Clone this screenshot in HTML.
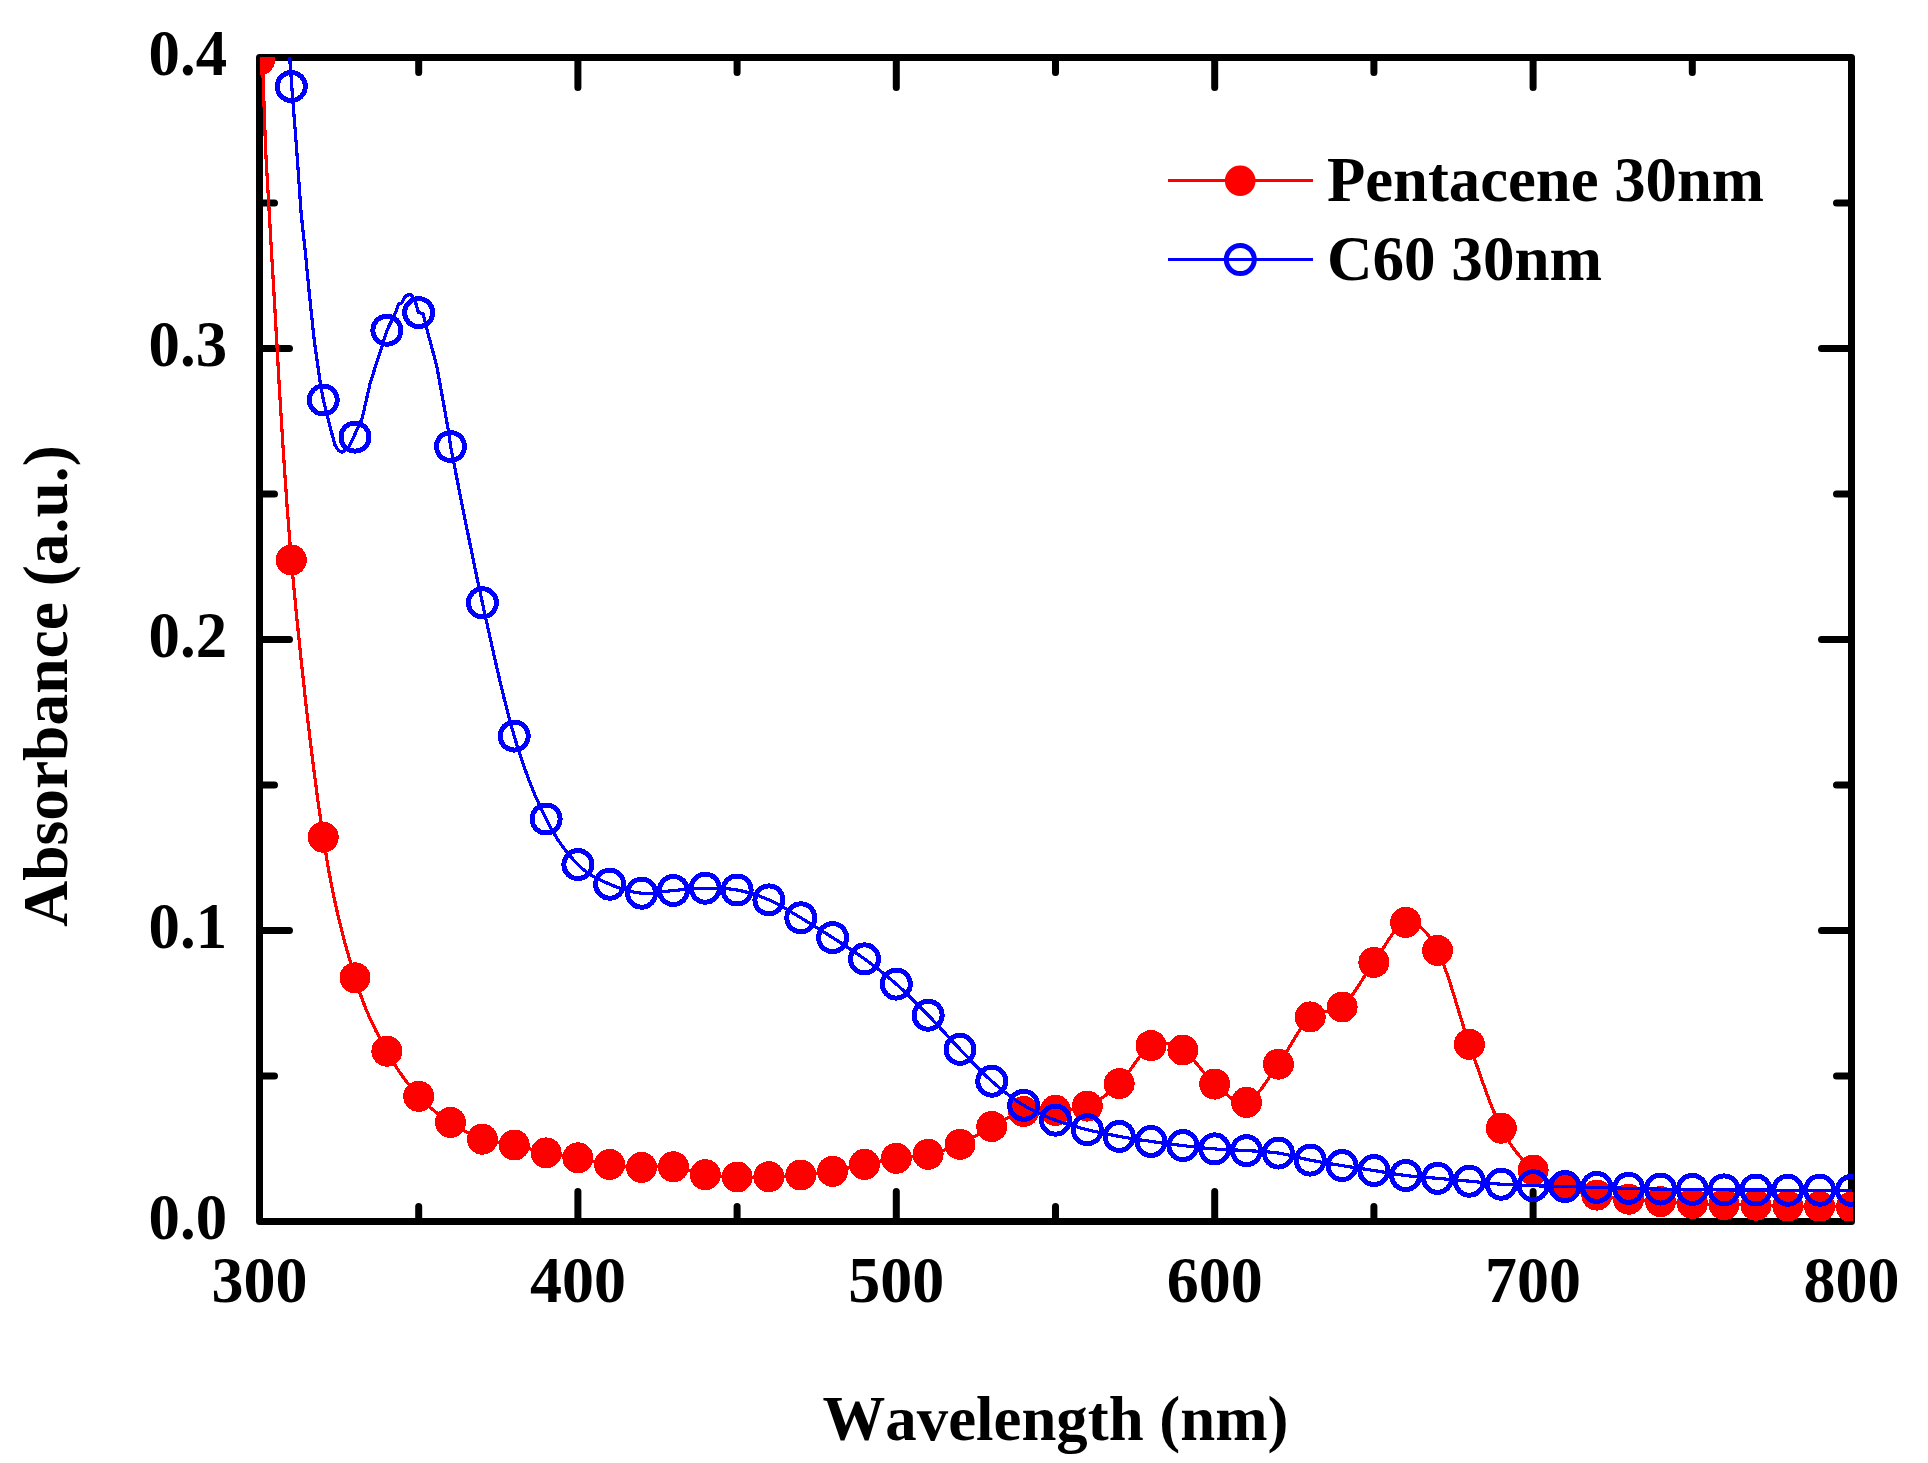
<!DOCTYPE html>
<html lang="en"><head><meta charset="utf-8"><title>Absorbance spectra</title>
<style>html,body{margin:0;padding:0;background:#fff;overflow:hidden}svg{display:block}text{font-family:"Liberation Serif","Times New Roman",serif;font-weight:bold;fill:#000;font-kerning:none}</style></head><body>
<svg width="1928" height="1463" viewBox="0 0 1928 1463">
<rect width="1928" height="1463" fill="#fff"/>
<defs><clipPath id="plot"><rect x="260" y="57" width="1593" height="1164"/></clipPath></defs>
<g stroke="#000" stroke-width="7" fill="none" stroke-linejoin="round">
<rect x="259.5" y="57.5" width="1592.0" height="1164.0"/>
<path stroke-linecap="round" d="M418.7 1221.5v-15M418.7 57.5v15M577.9 1221.5v-30M577.9 57.5v30M737.1 1221.5v-15M737.1 57.5v15M896.3 1221.5v-30M896.3 57.5v30M1055.5 1221.5v-15M1055.5 57.5v15M1214.7 1221.5v-30M1214.7 57.5v30M1373.9 1221.5v-15M1373.9 57.5v15M1533.1 1221.5v-30M1533.1 57.5v30M1692.3 1221.5v-15M1692.3 57.5v15M259.5 1076.0h15M1851.5 1076.0h-15M259.5 930.5h30M1851.5 930.5h-30M259.5 785.0h15M1851.5 785.0h-15M259.5 639.5h30M1851.5 639.5h-30M259.5 494.0h15M1851.5 494.0h-15M259.5 348.5h30M1851.5 348.5h-30M259.5 203.0h15M1851.5 203.0h-15"/>
</g>
<g clip-path="url(#plot)" shape-rendering="crispEdges">
<polyline points="262.3,55.0 263.0,75.0 265.6,150.0 271.4,250.0 273.8,289.9 276.6,339.0 279.7,393.9 283.3,451.3 287.2,507.8 291.3,560.0 296.0,609.7 301.1,659.9 306.5,709.2 312.1,756.1 317.7,799.3 323.2,837.2 328.5,869.3 333.8,896.7 339.1,920.2 344.4,941.0 349.7,959.8 355.0,977.8 360.3,994.2 365.6,1008.3 370.9,1020.5 376.2,1031.3 381.6,1041.4 386.9,1051.2 392.2,1060.6 397.5,1069.0 402.8,1076.7 408.1,1083.7 413.4,1090.2 418.7,1096.3 424.0,1101.9 429.3,1106.8 434.6,1111.1 439.9,1115.1 445.2,1118.8 450.5,1122.4 455.8,1125.9 461.2,1129.1 466.5,1132.1 471.8,1134.8 477.1,1137.1 482.4,1139.2 487.7,1140.8 493.0,1141.9 498.3,1142.7 503.6,1143.3 508.9,1144.0 514.2,1145.0 519.5,1146.2 524.8,1147.6 530.1,1149.0 535.4,1150.4 540.8,1151.7 546.1,1152.9 551.4,1153.9 556.7,1154.7 562.0,1155.4 567.3,1156.1 572.6,1156.9 577.9,1157.8 583.2,1158.9 588.5,1160.0 593.8,1161.3 599.1,1162.5 604.4,1163.6 609.7,1164.5 615.0,1165.2 620.4,1165.9 625.7,1166.4 631.0,1166.8 636.3,1167.2 641.6,1167.4 646.9,1167.4 652.2,1167.1 657.5,1166.8 662.8,1166.5 668.1,1166.4 673.4,1166.8 678.7,1167.7 684.0,1169.0 689.3,1170.6 694.6,1172.2 700.0,1173.6 705.3,1174.7 710.6,1175.4 715.9,1176.0 721.2,1176.4 726.5,1176.6 731.8,1176.8 737.1,1177.0 742.4,1177.1 747.7,1177.1 753.0,1177.1 758.3,1177.0 763.6,1176.9 768.9,1176.7 774.2,1176.5 779.6,1176.3 784.9,1176.1 790.2,1175.8 795.5,1175.4 800.8,1175.0 806.1,1174.5 811.4,1174.0 816.7,1173.5 822.0,1172.9 827.3,1172.1 832.6,1171.3 837.9,1170.3 843.2,1169.2 848.5,1167.9 853.8,1166.7 859.2,1165.4 864.5,1164.3 869.8,1163.2 875.1,1162.2 880.4,1161.1 885.7,1160.1 891.0,1159.2 896.3,1158.3 901.6,1157.6 906.9,1157.0 912.2,1156.5 917.5,1156.0 922.8,1155.3 928.1,1154.3 933.4,1153.1 938.8,1151.7 944.1,1150.2 949.4,1148.5 954.7,1146.6 960.0,1144.4 965.3,1141.8 970.6,1138.9 975.9,1135.8 981.2,1132.5 986.5,1129.4 991.8,1126.5 997.1,1123.7 1002.4,1120.8 1007.7,1118.0 1013.0,1115.4 1018.4,1113.2 1023.7,1111.5 1029.0,1110.5 1034.3,1110.2 1039.6,1110.2 1044.9,1110.4 1050.2,1110.5 1055.5,1110.3 1060.8,1110.0 1066.1,1109.8 1071.4,1109.5 1076.7,1109.0 1082.0,1107.9 1087.3,1106.1 1092.6,1103.6 1098.0,1100.5 1103.3,1097.0 1108.6,1092.9 1113.9,1088.5 1119.2,1083.6 1124.5,1077.7 1129.8,1070.5 1135.1,1062.9 1140.4,1055.7 1145.7,1049.7 1151.0,1045.6 1156.3,1043.5 1161.6,1042.8 1166.9,1043.3 1172.2,1044.8 1177.6,1047.1 1182.9,1050.0 1188.2,1054.1 1193.5,1059.8 1198.8,1066.2 1204.1,1072.8 1209.4,1079.0 1214.7,1084.1 1220.0,1088.7 1225.3,1093.4 1230.6,1097.7 1235.9,1101.0 1241.2,1102.7 1246.5,1102.3 1251.8,1099.3 1257.2,1094.1 1262.5,1087.3 1267.8,1079.7 1273.1,1071.7 1278.4,1064.2 1283.7,1056.4 1289.0,1047.7 1294.3,1038.8 1299.6,1030.2 1304.9,1022.7 1310.2,1016.9 1315.5,1013.5 1320.8,1012.1 1326.1,1011.8 1331.4,1011.5 1336.8,1010.2 1342.1,1007.0 1347.4,1001.5 1352.7,994.5 1358.0,986.6 1363.3,978.2 1368.6,970.0 1373.9,962.4 1379.2,954.7 1384.5,946.2 1389.8,937.9 1395.1,930.5 1400.4,925.1 1405.7,922.4 1411.0,922.4 1416.4,924.3 1421.7,928.0 1427.0,933.7 1432.3,941.1 1437.6,950.4 1442.9,962.4 1448.2,977.2 1453.5,993.9 1458.8,1011.3 1464.1,1028.5 1469.4,1044.3 1474.7,1059.3 1480.0,1074.6 1485.3,1089.5 1490.6,1103.7 1496.0,1116.8 1501.3,1128.2 1506.6,1137.9 1511.9,1146.2 1517.2,1153.2 1522.5,1159.4 1527.8,1164.9 1533.1,1170.0 1538.4,1174.4 1543.7,1178.0 1549.0,1180.9 1554.3,1183.3 1559.6,1185.4 1564.9,1187.5 1570.2,1189.4 1575.6,1190.9 1580.9,1192.1 1586.2,1193.2 1591.5,1194.2 1596.8,1195.1 1602.1,1196.0 1607.4,1196.8 1612.7,1197.5 1618.0,1198.1 1623.3,1198.7 1628.6,1199.2 1633.9,1199.7 1639.2,1200.1 1644.5,1200.5 1649.8,1200.9 1655.2,1201.2 1660.5,1201.6 1665.8,1202.0 1671.1,1202.3 1676.4,1202.6 1681.7,1203.0 1687.0,1203.2 1692.3,1203.5 1697.6,1203.7 1702.9,1203.9 1708.2,1204.1 1713.5,1204.2 1718.8,1204.4 1724.1,1204.5 1729.4,1204.6 1734.8,1204.8 1740.1,1204.9 1745.4,1205.0 1750.7,1205.1 1756.0,1205.2 1761.3,1205.3 1766.6,1205.5 1771.9,1205.6 1777.2,1205.8 1782.5,1205.9 1787.8,1206.0 1793.1,1206.1 1798.4,1206.2 1803.7,1206.3 1809.0,1206.3 1814.4,1206.4 1819.7,1206.5 1825.3,1206.6 1831.5,1206.7 1837.6,1206.8 1843.2,1206.9 1848.0,1206.9 1851.5,1207.0" fill="none" stroke="#f00" stroke-width="3.2" stroke-linejoin="round"/>
<g fill="#f00">
<circle cx="259.5" cy="60.0" r="15.5"/>
<circle cx="291.3" cy="560.0" r="15.5"/>
<circle cx="323.2" cy="837.2" r="15.5"/>
<circle cx="355.0" cy="977.8" r="15.5"/>
<circle cx="386.9" cy="1051.2" r="15.5"/>
<circle cx="418.7" cy="1096.3" r="15.5"/>
<circle cx="450.5" cy="1122.4" r="15.5"/>
<circle cx="482.4" cy="1139.2" r="15.5"/>
<circle cx="514.2" cy="1145.0" r="15.5"/>
<circle cx="546.1" cy="1152.9" r="15.5"/>
<circle cx="577.9" cy="1157.8" r="15.5"/>
<circle cx="609.7" cy="1164.5" r="15.5"/>
<circle cx="641.6" cy="1167.4" r="15.5"/>
<circle cx="673.4" cy="1166.8" r="15.5"/>
<circle cx="705.3" cy="1174.7" r="15.5"/>
<circle cx="737.1" cy="1177.0" r="15.5"/>
<circle cx="768.9" cy="1176.7" r="15.5"/>
<circle cx="800.8" cy="1175.0" r="15.5"/>
<circle cx="832.6" cy="1171.3" r="15.5"/>
<circle cx="864.5" cy="1164.3" r="15.5"/>
<circle cx="896.3" cy="1158.3" r="15.5"/>
<circle cx="928.1" cy="1154.3" r="15.5"/>
<circle cx="960.0" cy="1144.4" r="15.5"/>
<circle cx="991.8" cy="1126.5" r="15.5"/>
<circle cx="1023.7" cy="1111.5" r="15.5"/>
<circle cx="1055.5" cy="1110.3" r="15.5"/>
<circle cx="1087.3" cy="1106.1" r="15.5"/>
<circle cx="1119.2" cy="1083.6" r="15.5"/>
<circle cx="1151.0" cy="1045.6" r="15.5"/>
<circle cx="1182.9" cy="1050.0" r="15.5"/>
<circle cx="1214.7" cy="1084.1" r="15.5"/>
<circle cx="1246.5" cy="1102.3" r="15.5"/>
<circle cx="1278.4" cy="1064.2" r="15.5"/>
<circle cx="1310.2" cy="1016.9" r="15.5"/>
<circle cx="1342.1" cy="1007.0" r="15.5"/>
<circle cx="1373.9" cy="962.4" r="15.5"/>
<circle cx="1405.7" cy="922.4" r="15.5"/>
<circle cx="1437.6" cy="950.4" r="15.5"/>
<circle cx="1469.4" cy="1044.3" r="15.5"/>
<circle cx="1501.3" cy="1128.2" r="15.5"/>
<circle cx="1533.1" cy="1170.0" r="15.5"/>
<circle cx="1564.9" cy="1187.5" r="15.5"/>
<circle cx="1596.8" cy="1195.1" r="15.5"/>
<circle cx="1628.6" cy="1199.2" r="15.5"/>
<circle cx="1660.5" cy="1201.6" r="15.5"/>
<circle cx="1692.3" cy="1203.5" r="15.5"/>
<circle cx="1724.1" cy="1204.5" r="15.5"/>
<circle cx="1756.0" cy="1205.2" r="15.5"/>
<circle cx="1787.8" cy="1206.0" r="15.5"/>
<circle cx="1819.7" cy="1206.5" r="15.5"/>
<circle cx="1851.5" cy="1207.0" r="15.5"/>
</g>
<polyline points="259.5,-340.0 289.6,57.0 291.8,86.5 296.7,150.0 301.2,213.8 305.3,252.1 309.4,294.5 314.2,340.0 320.2,382.5 323.4,400.0 327.5,417.0 334.9,444.8 338.5,450.5 342.3,452.3 345.6,449.7 349.2,446.3 360.8,421.7 362.5,417.0 370.4,382.1 382.0,346.5 387.0,330.2 395.7,312.4 398.4,304.2 401.8,302.8 405.9,295.3 410.7,294.6 414.8,299.4 417.5,309.6 418.6,312.6 423.0,313.7 426.4,327.4 436.7,365.7 448.3,429.9 450.6,446.5 454.2,464.7 459.0,489.1 464.6,517.4 470.7,547.2 476.7,576.5 482.4,602.8 487.7,626.9 493.0,650.8 498.3,674.0 503.6,696.3 508.9,717.1 514.2,736.1 519.5,753.3 524.8,768.8 530.1,783.0 535.4,796.0 540.8,807.9 546.1,819.0 551.4,829.1 556.7,837.9 562.0,845.8 567.3,852.7 572.6,858.9 577.9,864.6 583.2,869.5 588.5,873.5 593.8,876.7 599.1,879.4 604.4,881.8 609.7,884.2 615.0,886.4 620.4,888.4 625.7,890.1 631.0,891.5 636.3,892.5 641.6,893.2 646.9,893.4 652.2,893.2 657.5,892.6 662.8,891.8 668.1,891.1 673.4,890.5 678.7,890.0 684.0,889.6 689.3,889.1 694.6,888.6 700.0,888.3 705.3,888.2 710.6,888.2 715.9,888.2 721.2,888.3 726.5,888.6 731.8,889.2 737.1,890.0 742.4,891.1 747.7,892.4 753.0,893.9 758.3,895.7 763.6,897.7 768.9,899.9 774.2,902.4 779.6,905.2 784.9,908.2 790.2,911.4 795.5,914.6 800.8,917.8 806.1,921.0 811.4,924.2 816.7,927.5 822.0,930.8 827.3,934.2 832.6,937.6 837.9,941.0 843.2,944.4 848.5,947.9 853.8,951.5 859.2,955.1 864.5,958.9 869.8,962.8 875.1,966.8 880.4,970.9 885.7,975.1 891.0,979.5 896.3,984.1 901.6,988.9 906.9,993.9 912.2,999.1 917.5,1004.4 922.8,1009.8 928.1,1015.2 933.4,1020.7 938.8,1026.4 944.1,1032.2 949.4,1038.0 954.7,1043.7 960.0,1049.3 965.3,1054.8 970.6,1060.4 975.9,1065.9 981.2,1071.2 986.5,1076.4 991.8,1081.2 997.1,1085.8 1002.4,1090.2 1007.7,1094.3 1013.0,1098.2 1018.4,1101.9 1023.7,1105.3 1029.0,1108.4 1034.3,1111.1 1039.6,1113.7 1044.9,1116.0 1050.2,1118.1 1055.5,1120.2 1060.8,1122.1 1066.1,1123.9 1071.4,1125.5 1076.7,1126.9 1082.0,1128.3 1087.3,1129.7 1092.6,1131.0 1098.0,1132.2 1103.3,1133.3 1108.6,1134.4 1113.9,1135.4 1119.2,1136.4 1124.5,1137.3 1129.8,1138.2 1135.1,1139.1 1140.4,1139.9 1145.7,1140.6 1151.0,1141.4 1156.3,1142.2 1161.6,1142.9 1166.9,1143.6 1172.2,1144.3 1177.6,1145.0 1182.9,1145.6 1188.2,1146.2 1193.5,1146.8 1198.8,1147.4 1204.1,1148.0 1209.4,1148.5 1214.7,1148.9 1220.0,1149.3 1225.3,1149.6 1230.6,1149.8 1235.9,1150.0 1241.2,1150.3 1246.5,1150.6 1251.8,1150.9 1257.2,1151.2 1262.5,1151.5 1267.8,1151.9 1273.1,1152.4 1278.4,1153.1 1283.7,1154.0 1289.0,1155.2 1294.3,1156.4 1299.6,1157.7 1304.9,1159.0 1310.2,1160.1 1315.5,1161.1 1320.8,1162.1 1326.1,1163.0 1331.4,1163.9 1336.8,1164.7 1342.1,1165.6 1347.4,1166.5 1352.7,1167.3 1358.0,1168.1 1363.3,1168.9 1368.6,1169.7 1373.9,1170.5 1379.2,1171.4 1384.5,1172.2 1389.8,1173.1 1395.1,1174.0 1400.4,1174.8 1405.7,1175.5 1411.0,1176.1 1416.4,1176.6 1421.7,1177.0 1427.0,1177.4 1432.3,1177.9 1437.6,1178.3 1442.9,1178.8 1448.2,1179.3 1453.5,1179.7 1458.8,1180.2 1464.1,1180.7 1469.4,1181.2 1474.7,1181.7 1480.0,1182.2 1485.3,1182.8 1490.6,1183.3 1496.0,1183.8 1501.3,1184.2 1506.6,1184.5 1511.9,1184.8 1517.2,1185.1 1522.5,1185.3 1527.8,1185.5 1533.1,1185.7 1538.4,1185.9 1543.7,1186.0 1549.0,1186.1 1554.3,1186.3 1559.6,1186.4 1564.9,1186.5 1570.2,1186.6 1575.6,1186.8 1580.9,1186.9 1586.2,1187.1 1591.5,1187.2 1596.8,1187.4 1602.1,1187.6 1607.4,1187.7 1612.7,1187.9 1618.0,1188.0 1623.3,1188.2 1628.6,1188.3 1633.9,1188.4 1639.2,1188.6 1644.5,1188.7 1649.8,1188.9 1655.2,1189.0 1660.5,1189.1 1665.8,1189.2 1671.1,1189.2 1676.4,1189.3 1681.7,1189.3 1687.0,1189.3 1692.3,1189.4 1697.6,1189.5 1702.9,1189.6 1708.2,1189.7 1713.5,1189.8 1718.8,1189.8 1724.1,1189.9 1729.4,1189.9 1734.8,1190.0 1740.1,1190.0 1745.4,1190.0 1750.7,1190.0 1756.0,1190.0 1761.3,1190.0 1766.6,1190.1 1771.9,1190.1 1777.2,1190.1 1782.5,1190.2 1787.8,1190.2 1793.1,1190.2 1798.4,1190.2 1803.7,1190.2 1809.0,1190.2 1814.4,1190.2 1819.7,1190.2 1825.3,1190.2 1831.5,1190.3 1837.6,1190.3 1843.2,1190.3 1848.0,1190.4 1851.5,1190.4" fill="none" stroke="#00f" stroke-width="3.2" stroke-linejoin="round"/>
<g fill="none" stroke="#00f" stroke-width="5">
<circle cx="291.3" cy="86.5" r="14"/>
<circle cx="323.2" cy="400.0" r="14"/>
<circle cx="355.0" cy="437.1" r="14"/>
<circle cx="386.9" cy="330.2" r="14"/>
<circle cx="418.7" cy="312.6" r="14"/>
<circle cx="450.5" cy="446.5" r="14"/>
<circle cx="482.4" cy="602.8" r="14"/>
<circle cx="514.2" cy="736.1" r="14"/>
<circle cx="546.1" cy="819.0" r="14"/>
<circle cx="577.9" cy="864.6" r="14"/>
<circle cx="609.7" cy="884.2" r="14"/>
<circle cx="641.6" cy="893.2" r="14"/>
<circle cx="673.4" cy="890.5" r="14"/>
<circle cx="705.3" cy="888.2" r="14"/>
<circle cx="737.1" cy="890.0" r="14"/>
<circle cx="768.9" cy="899.9" r="14"/>
<circle cx="800.8" cy="917.8" r="14"/>
<circle cx="832.6" cy="937.6" r="14"/>
<circle cx="864.5" cy="958.9" r="14"/>
<circle cx="896.3" cy="984.1" r="14"/>
<circle cx="928.1" cy="1015.2" r="14"/>
<circle cx="960.0" cy="1049.3" r="14"/>
<circle cx="991.8" cy="1081.2" r="14"/>
<circle cx="1023.7" cy="1105.3" r="14"/>
<circle cx="1055.5" cy="1120.2" r="14"/>
<circle cx="1087.3" cy="1129.7" r="14"/>
<circle cx="1119.2" cy="1136.4" r="14"/>
<circle cx="1151.0" cy="1141.4" r="14"/>
<circle cx="1182.9" cy="1145.6" r="14"/>
<circle cx="1214.7" cy="1148.9" r="14"/>
<circle cx="1246.5" cy="1150.6" r="14"/>
<circle cx="1278.4" cy="1153.1" r="14"/>
<circle cx="1310.2" cy="1160.1" r="14"/>
<circle cx="1342.1" cy="1165.6" r="14"/>
<circle cx="1373.9" cy="1170.5" r="14"/>
<circle cx="1405.7" cy="1175.5" r="14"/>
<circle cx="1437.6" cy="1178.3" r="14"/>
<circle cx="1469.4" cy="1181.2" r="14"/>
<circle cx="1501.3" cy="1184.2" r="14"/>
<circle cx="1533.1" cy="1185.7" r="14"/>
<circle cx="1564.9" cy="1186.5" r="14"/>
<circle cx="1596.8" cy="1187.4" r="14"/>
<circle cx="1628.6" cy="1188.3" r="14"/>
<circle cx="1660.5" cy="1189.1" r="14"/>
<circle cx="1692.3" cy="1189.4" r="14"/>
<circle cx="1724.1" cy="1189.9" r="14"/>
<circle cx="1756.0" cy="1190.0" r="14"/>
<circle cx="1787.8" cy="1190.2" r="14"/>
<circle cx="1819.7" cy="1190.2" r="14"/>
<circle cx="1851.5" cy="1190.4" r="14"/>
</g>
</g>
<g font-size="65">
<text x="148.6" y="1239.0" textLength="78.5" lengthAdjust="spacingAndGlyphs">0.0</text>
<text x="148.6" y="948.0" textLength="78.5" lengthAdjust="spacingAndGlyphs">0.1</text>
<text x="148.6" y="657.0" textLength="78.5" lengthAdjust="spacingAndGlyphs">0.2</text>
<text x="148.6" y="366.0" textLength="78.5" lengthAdjust="spacingAndGlyphs">0.3</text>
<text x="148.6" y="75.0" textLength="78.5" lengthAdjust="spacingAndGlyphs">0.4</text>
<text x="259.5" y="1301.5" text-anchor="middle" textLength="96" lengthAdjust="spacingAndGlyphs">300</text>
<text x="577.9" y="1301.5" text-anchor="middle" textLength="96" lengthAdjust="spacingAndGlyphs">400</text>
<text x="896.3" y="1301.5" text-anchor="middle" textLength="96" lengthAdjust="spacingAndGlyphs">500</text>
<text x="1214.7" y="1301.5" text-anchor="middle" textLength="96" lengthAdjust="spacingAndGlyphs">600</text>
<text x="1533.1" y="1301.5" text-anchor="middle" textLength="96" lengthAdjust="spacingAndGlyphs">700</text>
<text x="1851.5" y="1301.5" text-anchor="middle" textLength="96" lengthAdjust="spacingAndGlyphs">800</text>
</g>
<text x="822.5" y="1440.2" font-size="64" textLength="466" lengthAdjust="spacingAndGlyphs">Wavelength (nm)</text>
<text transform="translate(67.2 926.7) rotate(-90)" font-size="64" textLength="481.5" lengthAdjust="spacingAndGlyphs">Absorbance (a.u.)</text>
<g stroke-width="3" fill="none"><path d="M1168 180.5h145" stroke="#f00"/><path d="M1168 259.5h145" stroke="#00f"/></g>
<circle cx="1240.2" cy="180.8" r="15.3" fill="#f00"/>
<circle cx="1240.3" cy="259.5" r="14" fill="#fff" stroke="#00f" stroke-width="5"/>
<path d="M1226 259.5h29" stroke="#00f" stroke-width="3"/>
<text x="1327" y="201" font-size="64" textLength="437" lengthAdjust="spacingAndGlyphs">Pentacene 30nm</text>
<text x="1327" y="280" font-size="64" textLength="275" lengthAdjust="spacingAndGlyphs">C60 30nm</text>
</svg></body></html>
